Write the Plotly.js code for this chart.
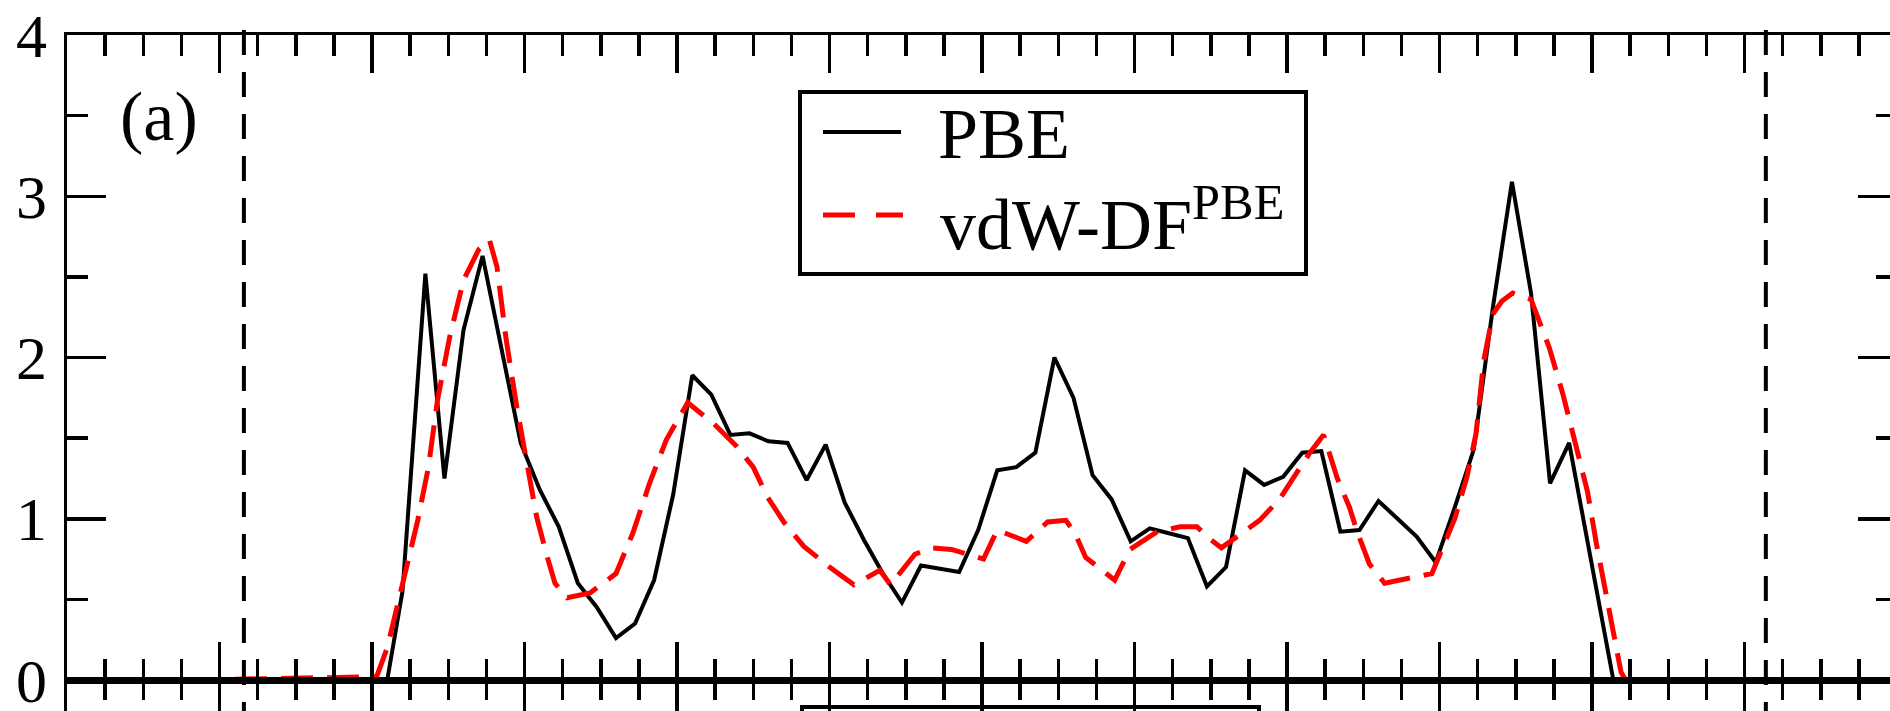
<!DOCTYPE html>
<html>
<head>
<meta charset="utf-8">
<script src="https://cdn.plot.ly/plotly-3.0.1.min.js"></script>
<style>
  html, body { margin: 0; padding: 0; overflow: hidden; background: #fff; }
  #chart { width: 1910px; height: 760px; }
</style>
</head>
<body>
<div id="chart"></div>
<script>
// Panel (a): density profiles across the cell, PBE vs vdW-DF^PBE
const seriesNames = ['PBE', 'vdW-DF<sup>PBE</sup>'];
const panelLabel = '(a)';

const pbeX = [0.85, 2.1, 2.2, 2.35, 2.475, 2.6, 2.725, 2.85, 2.975, 3.1, 3.225, 3.35, 3.475, 3.6, 3.725, 3.85, 3.975,
  4.1, 4.225, 4.35, 4.475, 4.6, 4.725, 4.85, 4.975, 5.1, 5.225, 5.35, 5.475, 5.6, 5.725, 5.85, 5.975,
  6.1, 6.225, 6.35, 6.475, 6.6, 6.725, 6.85, 6.975, 7.1, 7.225, 7.35, 7.475, 7.6, 7.725, 7.85, 7.975,
  8.1, 8.225, 8.35, 8.475, 8.6, 8.725, 8.85, 8.975, 9.1, 9.225, 9.35, 9.475, 9.6, 9.725, 9.85, 10.14, 11.85];
const pbeY = [0, 0, 0.55, 2.52, 1.25, 2.17, 2.63, 2.05, 1.47, 1.18, 0.95, 0.60, 0.45, 0.26, 0.35, 0.62, 1.15,
  1.89, 1.77, 1.52, 1.53, 1.48, 1.47, 1.24, 1.46, 1.10, 0.87, 0.66, 0.48, 0.71, 0.69, 0.67, 0.93,
  1.30, 1.32, 1.41, 2.00, 1.75, 1.27, 1.12, 0.86, 0.94, 0.91, 0.88, 0.58, 0.70, 1.30, 1.21, 1.26,
  1.41, 1.42, 0.92, 0.93, 1.11, 1.00, 0.89, 0.73, 1.07, 1.43, 2.31, 3.09, 2.40, 1.22, 1.47, 0, 0];

const vdwX = [0.8, 2.03, 2.1, 2.21, 2.3, 2.37, 2.43, 2.51, 2.6, 2.7, 2.77, 2.82, 2.88, 2.95, 3.01, 3.08, 3.15, 3.2, 3.28,
  3.43, 3.6, 3.71, 3.82, 3.93, 4.07, 4.24, 4.39, 4.5, 4.59, 4.7, 4.83, 5.0, 5.16, 5.33, 5.4, 5.56, 5.67, 5.8,
  6.01, 6.1, 6.29, 6.43, 6.55, 6.61, 6.68, 6.87, 6.97, 7.15, 7.3, 7.41, 7.5, 7.57, 7.82, 7.95, 8.15, 8.24,
  8.33, 8.41, 8.46, 8.54, 8.64, 8.85, 8.95, 9.1, 9.18, 9.24, 9.29, 9.35, 9.41, 9.48, 9.6, 9.66, 9.72, 9.81,
  9.9, 9.97, 10.03, 10.1, 10.19, 10.22, 11.85];
const vdwY = [0, 0.02, 0.2, 0.64, 0.99, 1.32, 1.74, 2.13, 2.48, 2.67, 2.73, 2.56, 2.11, 1.69, 1.36, 1.01, 0.76, 0.6, 0.51,
  0.54, 0.66, 0.91, 1.22, 1.49, 1.72, 1.59, 1.45, 1.32, 1.14, 0.98, 0.83, 0.70, 0.59, 0.68, 0.59, 0.78, 0.82, 0.81,
  0.75, 0.93, 0.86, 0.98, 0.99, 0.91, 0.76, 0.62, 0.81, 0.92, 0.95, 0.95, 0.87, 0.82, 0.99, 1.12, 1.41, 1.52,
  1.25, 1.07, 0.92, 0.72, 0.60, 0.64, 0.66, 1.00, 1.26, 1.53, 1.98, 2.27, 2.35, 2.40, 2.36, 2.21, 2.06, 1.77,
  1.43, 1.17, 0.84, 0.48, 0.05, 0, 0];

// Cell boundaries marked with vertical dashed lines
const boundaries = [1.16, 11.14];

const yTickVals = [0, 1, 2, 3, 4];
const yTickText = ['0', '1', '2', '3', '4'];
const xRange = [0, 12];
const yRange = [0, 4];

const serif = '"Liberation Serif", "Times New Roman", Times, serif';
const W = 1910, H = 760;
const M = { l: 67, r: 13, t: 35, b: 0 };
const plotW = W - M.l - M.r, plotH = H - M.t - M.b;
// pixel -> paper helpers for layout decorations
const px = v => (v - M.l) / plotW;
const py = v => (H - M.b - v) / plotH;
const splitFrac = py(680);

const lineBlack = { color: '#000000', width: 4 };
const lineRed = { color: '#ff0000', width: 5, dash: '32px,14px' };
const axisW = 3.5;

const traces = [
  { x: pbeX, y: pbeY, type: 'scatter', mode: 'lines', name: seriesNames[0], line: lineBlack, xaxis: 'x', yaxis: 'y', showlegend: false },
  { x: vdwX, y: vdwY, type: 'scatter', mode: 'lines', name: seriesNames[1], line: lineRed, xaxis: 'x', yaxis: 'y', showlegend: false },
  { x: [null], y: [null], type: 'scatter', mode: 'lines', name: '(b)', xaxis: 'x2', yaxis: 'y2', showlegend: false }
];

const xCommon = {
  range: xRange, showgrid: false, zeroline: false, showline: true, linecolor: '#000', linewidth: axisW,
  ticks: 'inside', ticklen: 38, tickwidth: axisW, tickcolor: '#000', dtick: 1, tick0: 0,
  minor: { ticks: 'inside', ticklen: 21, tickwidth: axisW, tickcolor: '#000', dtick: 0.25, showgrid: false },
  showticklabels: false, fixedrange: true
};

const shapes = boundaries.map(b => ({
  type: 'line', xref: 'x', yref: 'paper', x0: b, x1: b, y0: py(30), y1: -0.2,
  line: { color: '#000', width: 4, dash: '25px,17px' }, layer: 'above'
}));

// Legend frame and line samples
const legendBox = { x0: 800, x1: 1306, y0: 92, y1: 274 };
shapes.push({ type: 'rect', xref: 'paper', yref: 'paper', x0: px(legendBox.x0), x1: px(legendBox.x1),
  y0: py(legendBox.y0), y1: py(legendBox.y1), line: { color: '#000', width: 4 }, fillcolor: '#fff', layer: 'above' });
shapes.push({ type: 'line', xref: 'paper', yref: 'paper', x0: px(823), x1: px(901), y0: py(132), y1: py(132),
  line: { color: lineBlack.color, width: lineBlack.width }, layer: 'above' });
shapes.push({ type: 'line', xref: 'paper', yref: 'paper', x0: px(823), x1: px(903), y0: py(215), y1: py(215),
  line: { color: lineRed.color, width: lineRed.width, dash: '32px,21px' }, layer: 'above' });
// Legend frame of panel (b), below
shapes.push({ type: 'rect', xref: 'paper', yref: 'paper', x0: px(802), x1: px(1259), y0: py(707), y1: -0.3,
  line: { color: '#000', width: 4 }, fillcolor: 'rgba(0,0,0,0)', layer: 'above' });

const annotations = [
  { xref: 'paper', yref: 'paper', x: px(936), y: py(134), xanchor: 'left', yanchor: 'middle', showarrow: false,
    text: seriesNames[0], font: { family: serif, size: 72, color: '#000' } },
  { xref: 'paper', yref: 'paper', x: px(938), y: py(219), xanchor: 'left', yanchor: 'middle', showarrow: false,
    text: seriesNames[1], font: { family: serif, size: 72, color: '#000' } },
  { xref: 'paper', yref: 'paper', x: px(118), y: py(116), xanchor: 'left', yanchor: 'middle', showarrow: false,
    text: panelLabel, font: { family: serif, size: 70, color: '#000' } }
];

const layout = {
  width: W, height: H,
  margin: M,
  paper_bgcolor: '#fff', plot_bgcolor: 'rgba(0,0,0,0)',
  showlegend: false,
  font: { family: serif, color: '#000' },
  xaxis: Object.assign({}, xCommon, { anchor: 'y', side: 'bottom', mirror: 'ticks' }),
  yaxis: {
    domain: [splitFrac, 1], anchor: 'x', range: yRange, showgrid: false, zeroline: false,
    showline: true, linecolor: '#000', linewidth: axisW, mirror: 'ticks',
    ticks: 'inside', ticklen: 39, tickwidth: axisW, tickcolor: '#000',
    tickmode: 'array', tickvals: yTickVals, ticktext: yTickText,
    minor: { ticks: 'inside', ticklen: 21, tickwidth: axisW, tickcolor: '#000', dtick: 0.5, showgrid: false },
    tickfont: { family: serif, size: 62, color: '#000' }, ticklabelstandoff: 4, fixedrange: true
  },
  xaxis2: Object.assign({}, xCommon, { anchor: 'y2', side: 'top', ticklen: 39, minor: Object.assign({}, xCommon.minor, { ticklen: 20 }) }),
  yaxis2: {
    domain: [0, splitFrac], anchor: 'x2', range: [0, 1], showgrid: false, zeroline: false,
    showline: true, linecolor: '#000', linewidth: axisW, ticks: '', showticklabels: false, fixedrange: true
  },
  shapes: shapes,
  annotations: annotations
};

Plotly.newPlot('chart', traces, layout, { staticPlot: true, displayModeBar: false });
</script>
</body>
</html>
